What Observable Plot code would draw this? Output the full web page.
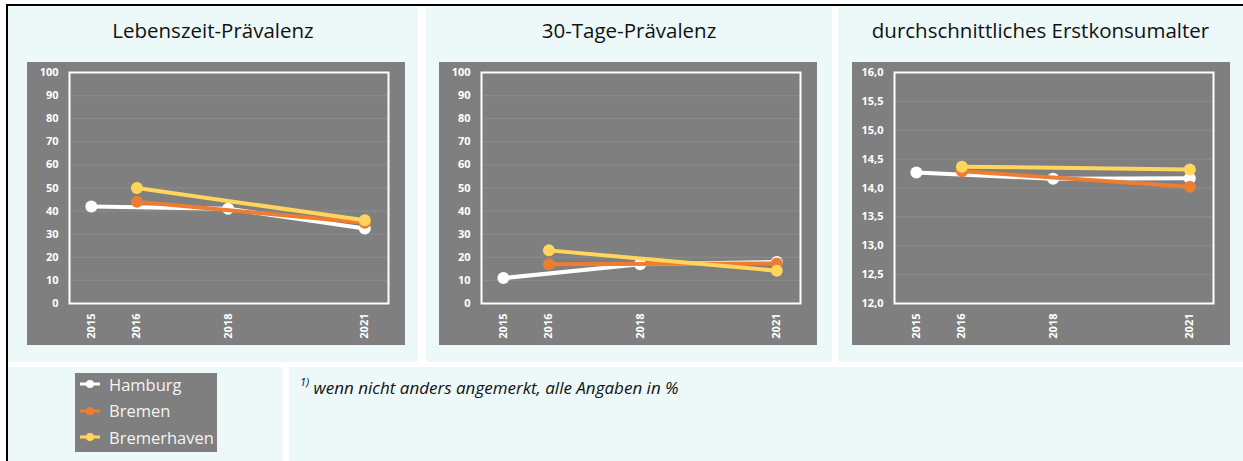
<!DOCTYPE html>
<html>
<head>
<meta charset="utf-8">
<script src="https://cdn.jsdelivr.net/npm/d3@7"></script>
<script src="https://cdn.jsdelivr.net/npm/@observablehq/plot@0.6"></script>
<style>
  html, body { margin: 0; padding: 0; background: #ffffff; }
  #page { position: relative; width: 1243px; height: 461px; overflow: hidden; font-family: "Open Sans", sans-serif; }
  .frameTop { position: absolute; left: 6px; top: 4px; width: 1237px; height: 2px; background: #000; }
  .frameLeft { position: absolute; left: 6px; top: 4px; width: 2px; height: 457px; background: #000; }
  .panel { position: absolute; background: #edf9f9; }
  .title { position: absolute; left: 0; right: 0; top: 8px; text-align: center; font-size: 20.5px; color: #111; line-height: 30px; }
  .chart { position: absolute; }
  .legend { position: absolute; left: 75px; top: 373px; width: 142px; height: 79px; background: #7f7f7f; }
  .legRow { position: absolute; left: 4px; height: 26px; display: flex; align-items: center; color: #f4f4f4; font-size: 16.5px; }
  .legRow svg { margin-right: 8px; }
  .note { position: absolute; left: 300px; top: 375px; font-size: 17px; font-style: italic; color: #111; }
  .note sup { font-size: 11px; position: relative; top: -1px; }
</style>
</head>
<body>
<div id="page">
  <div class="frameTop"></div>
  <div class="frameLeft"></div>
  <div class="panel" style="left:8px;top:7px;width:410px;height:355px;"><div class="title" id="t0"></div></div>
  <div class="panel" style="left:426px;top:7px;width:406px;height:355px;"><div class="title" id="t1"></div></div>
  <div class="panel" style="left:838px;top:7px;width:405px;height:355px;"><div class="title" id="t2"></div></div>
  <div class="panel" style="left:8px;top:367px;width:275px;height:94px;"></div>
  <div class="panel" style="left:289px;top:367px;width:954px;height:94px;"></div>
  <div class="chart" id="c0" style="left:27px;top:62px;"></div>
  <div class="chart" id="c1" style="left:439px;top:62px;"></div>
  <div class="chart" id="c2" style="left:852px;top:62px;"></div>
  <div class="legend" id="legend"></div>
  <div class="note" id="note"></div>
</div>
<script>
// ---- data ----
const titles = ["Lebenszeit-Prävalenz", "30-Tage-Prävalenz", "durchschnittliches Erstkonsumalter"];
const xTicks = [2015, 2016, 2018, 2021];
const cities = ["Hamburg", "Bremen", "Bremerhaven"];
const cityColors = ["#ffffff", "#ed7d31", "#ffd55c"];

const hamburgYears = [2015, 2018, 2021];
const bremenYears = [2016, 2021];
const bremerhavenYears = [2016, 2021];

const hamburgLifetime = [42, 41, 32.5];
const bremenLifetime = [44, 35];
const bremerhavenLifetime = [50, 36];

const hamburg30Day = [11, 17, 18];
const bremen30Day = [17, 17.3];
const bremerhaven30Day = [23, 14.2];

const hamburgAge = [14.27, 14.16, 14.17];
const bremenAge = [14.29, 14.02];
const bremerhavenAge = [14.37, 14.32];

const percentTicks = [0, 10, 20, 30, 40, 50, 60, 70, 80, 90, 100];
const ageTicks = [12, 12.5, 13, 13.5, 14, 14.5, 15, 15.5, 16];

const footnoteSup = "1)";
const footnoteText = "wenn nicht anders angemerkt, alle Angaben in %";

// ---- build ----
function rows(years, values, city) {
  return years.map((y, i) => ({year: y, value: values[i], city}));
}

const panels = [
  {
    series: [rows(hamburgYears, hamburgLifetime, "Hamburg"), rows(bremenYears, bremenLifetime, "Bremen"), rows(bremerhavenYears, bremerhavenLifetime, "Bremerhaven")],
    yTicks: percentTicks, fmt: d => String(d)
  },
  {
    series: [rows(hamburgYears, hamburg30Day, "Hamburg"), rows(bremenYears, bremen30Day, "Bremen"), rows(bremerhavenYears, bremerhaven30Day, "Bremerhaven")],
    yTicks: percentTicks, fmt: d => String(d)
  },
  {
    series: [rows(hamburgYears, hamburgAge, "Hamburg"), rows(bremenYears, bremenAge, "Bremen"), rows(bremerhavenYears, bremerhavenAge, "Bremerhaven")],
    yTicks: ageTicks, fmt: d => d.toFixed(1).replace(".", ",")
  }
];

panels.forEach((p, i) => {
  document.getElementById("t" + i).textContent = titles[i];
  const yMin = p.yTicks[0], yMax = p.yTicks[p.yTicks.length - 1];
  const marks = [
    Plot.gridY(p.yTicks.slice(1, -1), {stroke: "#8d8d8d", strokeOpacity: 1, strokeWidth: 1}),
    Plot.frame({stroke: "#ffffff", strokeWidth: 2})
  ];
  p.series.forEach((s, k) => {
    marks.push(Plot.line(s, {x: "year", y: "value", stroke: cityColors[k], strokeWidth: 4}));
    marks.push(Plot.dot(s, {x: "year", y: "value", r: 6, fill: cityColors[k], stroke: "none"}));
  });
  const chart = Plot.plot({
    width: 378, height: 283,
    marginLeft: 42, marginRight: 17, marginTop: 10, marginBottom: 42,
    style: {background: "#7f7f7f", color: "#ffffff", fontFamily: "Open Sans, sans-serif", fontSize: "11px", fontWeight: "bold"},
    x: {domain: [2014.52, 2021.52], ticks: xTicks, tickFormat: d => String(d), tickRotate: -90, tickSize: 0, tickPadding: 10, label: null},
    y: {domain: [yMin, yMax], ticks: p.yTicks, tickFormat: p.fmt, tickSize: 0, tickPadding: 11, label: null},
    marks
  });
  document.getElementById("c" + i).appendChild(chart);
});

// legend
const legend = document.getElementById("legend");
cities.forEach((c, k) => {
  const row = document.createElement("div");
  row.className = "legRow";
  row.style.top = (-2 + k * 26.5) + "px";
  row.innerHTML = `<svg width="22" height="12"><line x1="1" y1="6" x2="21" y2="6" stroke="${cityColors[k]}" stroke-width="3"/><circle cx="11" cy="6" r="4" fill="${cityColors[k]}"/></svg><span>${c}</span>`;
  legend.appendChild(row);
});

document.getElementById("note").innerHTML = `<sup>${footnoteSup}</sup> ${footnoteText}`;
</script>
</body>
</html>
